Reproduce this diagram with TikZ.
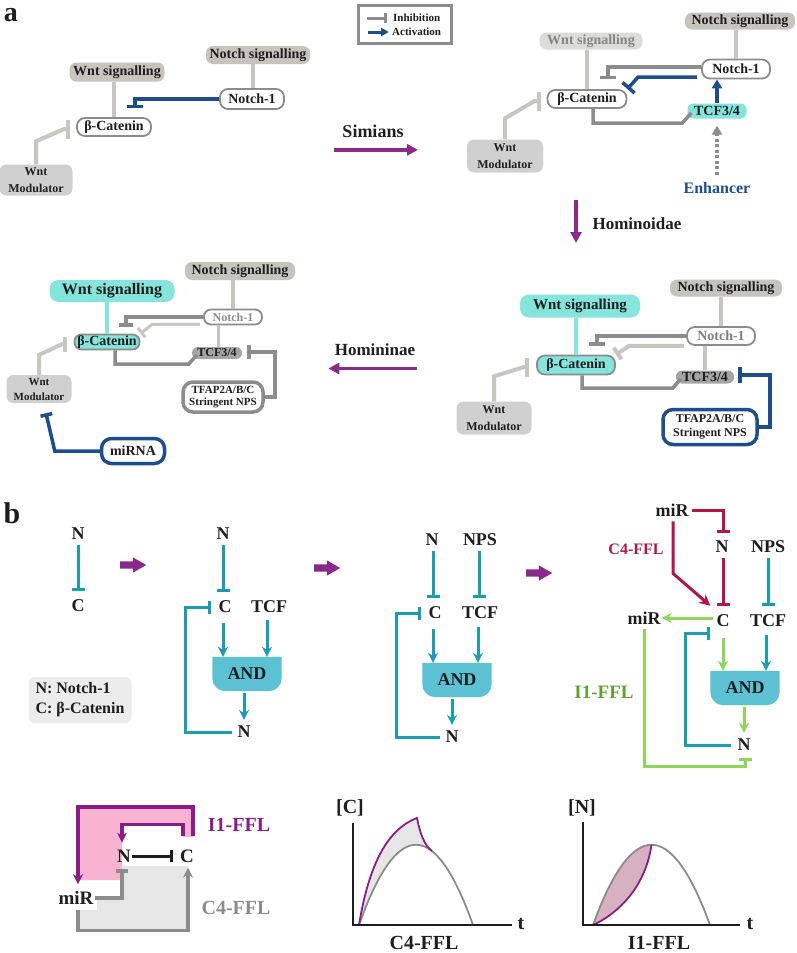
\documentclass[tikz,border=0pt]{standalone}
\usepackage{fontspec}
\setmainfont{Liberation Serif}
\usetikzlibrary{calc}
\usetikzlibrary{arrows.meta,shapes.arrows,backgrounds}

\definecolor{sigfill}{HTML}{C7C4BE}
\definecolor{sigpale}{HTML}{DCDCD9}
\definecolor{modfill}{HTML}{D0D0D0}
\definecolor{lline}{HTML}{C8C6C0}
\definecolor{gline}{HTML}{8C8C8C}
\definecolor{dblue}{HTML}{1D4D8C}
\definecolor{aqua}{HTML}{85E4DC}
\definecolor{tcfgray}{HTML}{A5A5A5}
\definecolor{purp}{HTML}{8C2A8C}
\definecolor{cyanl}{HTML}{1A9DB3}
\definecolor{andfill}{HTML}{5CC2D3}
\definecolor{crim}{HTML}{B3164B}
\definecolor{lgreen}{HTML}{8DD65A}
\definecolor{dgreen}{HTML}{5FA22E}
\definecolor{keyfill}{HTML}{ECECEC}
\definecolor{pinkf}{HTML}{F7B3CF}
\definecolor{plum}{HTML}{8B1B88}
\definecolor{loopgray}{HTML}{E6E6E6}
\definecolor{mauve}{HTML}{D8B1C0}
\definecolor{ink}{HTML}{1E1E1E}

\newcommand{\fsz}[2]{\fontsize{#1}{#2}\selectfont\bfseries}

\tikzset{
  sig/.style={fill=sigfill, rounded corners=7pt, inner sep=1pt, text=ink, font=\fsz{14}{16}},
  mem/.style={draw=gline, line width=1.8pt, fill=white, rounded corners=8pt, inner sep=1pt, text=ink, font=\fsz{14}{16}},
  modbox/.style={fill=modfill, rounded corners=7pt, inner sep=1pt, align=center, text=ink, font=\fsz{12}{17}},
  tcfbox/.style={rounded corners=6pt, inner sep=1pt, text=ink, font=\fsz{14}{16}},
  tfap/.style={draw=dblue, line width=3.5pt, fill=white, rounded corners=10pt, inner sep=1pt, align=center, text=ink, font=\fsz{12}{14}},
  lcon/.style={draw=lline, line width=4pt},
  linh/.style={lcon, -{Bar[width=19pt]}},
  gcon/.style={draw=gline, line width=3.5pt},
  ginh/.style={gcon, -{Bar[width=16pt]}},
  binh/.style={draw=dblue, line width=3.5pt, -{Bar[width=16pt]}},
  bact/.style={draw=dblue, line width=3.5pt, -{Triangle[length=9pt,width=10pt]}},
  enh/.style={draw=gline, line width=3.5pt, dash pattern=on 3pt off 2.5pt, -{Triangle[length=9pt,width=10pt]}},
  evo/.style={draw=purp, line width=3.5pt, -{Triangle[length=11pt,width=11pt]}},
  evotxt/.style={font=\fsz{17}{20}, text=ink},
  lbl/.style={font=\fsz{18}{20}, text=ink, inner sep=1pt},
  cinh/.style={draw=cyanl, line width=3pt, -{Bar[width=13pt]}, shorten <=4pt, shorten >=8pt},
  cact/.style={draw=cyanl, line width=3pt, -{Stealth[length=10pt,width=10pt]}, shorten <=8pt},
  rinh/.style={draw=crim, line width=3pt, -{Bar[width=13pt]}, shorten <=4pt, shorten >=8pt},
  ract/.style={draw=crim, line width=3pt, -{Stealth[length=11pt,width=11pt]}},
  grinh/.style={draw=lgreen, line width=3pt, -{Bar[width=13pt]}},
  gract/.style={draw=lgreen, line width=3pt, -{Stealth[length=10pt,width=10pt]}},
  andg/.style={minimum width=69pt, minimum height=34pt, inner sep=0pt, font=\fsz{18}{20}, text=ink},
  fatarr/.style={single arrow, fill=purp, minimum height=26pt, inner sep=3.5pt, single arrow head extend=4pt, single arrow tip angle=60},
  kinh/.style={draw=ink, line width=3pt, -{Bar[width=12pt]}},
  pact/.style={draw=plum, line width=3.5pt, -{Stealth[length=10pt,width=10pt]}},
  mginh/.style={gcon, -{Bar[width=12pt]}},
  mgact/.style={gcon, -{Stealth[length=10pt,width=10pt]}},
  axis/.style={draw=ink, line width=2.8pt},
  gcurve/.style={draw=gline, line width=1.8pt},
  pcurve/.style={draw=plum, line width=1.8pt},
  plt/.style={font=\fsz{20}{22}, text=ink, inner sep=1pt}
}

\begin{document}
\begin{tikzpicture}[x=1pt,y=-1pt]
\useasboundingbox (0,0) rectangle (797,953);

% ---- a ----
\node[font=\fsz{28}{28}, text=ink, inner sep=0pt] (pa) at (11,15) {a};

  \node[sig, minimum width=95, minimum height=19] (wntA) at (117,72) {Wnt signalling};
  \node[sig, minimum width=104, minimum height=18] (notchsA) at (258,55) {Notch signalling};
  \node[mem, minimum width=64, minimum height=20] (n1A) at (252,99) {Notch-1};
  \node[mem, minimum width=74, minimum height=18] (catA) at (114,127) {β-Catenin};
  \node[modbox, minimum width=73, minimum height=31] (modA) at (36,180) {Wnt\\Modulator};

  \draw[lcon] (catA.north) -- (catA.north |- wntA.south);
  \draw[lcon] ($(n1A.north)+(1,0)$) -- ($(n1A.north |- notchsA.south)+(1,0)$);
  \draw[binh] (n1A.west) -| ($(catA.north)+(21,-9)$);
  \draw[linh] (modA.north) -- ++(0,-23) -- ($(catA.west)+(-12,2)$) -- ($(catA.west)+(-6,2)$);

  % legend
  \node[draw=gline, line width=3pt, minimum width=93, minimum height=38] (legA) at (404.5,24) {};
  \node[font=\fsz{11}{13}, text=ink, anchor=west, inner sep=0pt] (inhA) at (393,18) {Inhibition};
  \node[font=\fsz{11}{13}, text=ink, anchor=west, inner sep=0pt] (actA) at (392,32) {Activation};
  \draw[gcon, line width=3pt, -{Bar[width=10pt]}] ($(inhA.west)+(-26,0)$) -- ($(inhA.west)+(-6,0)$);
  \draw[bact, line width=3pt, -{Triangle[length=8pt,width=8pt]}] ($(actA.west)+(-24,0)$) -- ($(actA.west)+(-3,0)$);

  \node[evotxt, font=\fsz{18}{20}] (simA) at (373,131) {Simians};
  \draw[evo] ($(simA.south west)+(-5,9)$) -- ($(simA.south east)+(11,9)$);

  \node[sig, fill=sigpale, text=gline!95!black, minimum width=103, minimum height=17] (wntB) at (591,41) {Wnt signalling};
  \node[sig, minimum width=110, minimum height=17] (notchsB) at (740,21) {Notch signalling};
  \node[mem, minimum width=68, minimum height=19] (n1B) at (736,69) {Notch-1};
  \node[mem, minimum width=79, minimum height=18] (catB) at (587,99) {β-Catenin};
  \node[tcfbox, fill=aqua, minimum width=59, minimum height=15] (tcfB) at (717,111) {TCF3/4};
  \node[modbox, minimum width=76, minimum height=33] (modB) at (505,156) {Wnt\\Modulator};
  \node[font=\fsz{16}{18}, text=dblue] (enhB) at (717,188) {Enhancer};

  \draw[lcon] (catB.north) -- (catB.north |- wntB.south);
  \draw[lcon] (n1B.north) -- (n1B.north |- notchsB.south);
  \draw[ginh] ($(n1B.west)+(0,-2)$) -| ($(catB.north)+(21,-10)$);
  \draw[binh] ($(n1B.west)+(-4,8)$) -- ++(-59,0) -- (catB.north east);
  \draw[bact] (tcfB.north) -- (tcfB.north |- n1B.south);
  \draw[gcon] ($(catB.south)+(6,0)$) |- ($(tcfB.west)+(-5,12)$) -- ($(tcfB.west)+(4,2)$);
  \draw[linh] (modB.north) -- ++(0,-21) -- ($(catB.west)+(-12,2)$) -- ($(catB.west)+(-6,2)$);
  \draw[enh] ($(enhB.north)+(0,-4)$) -- ($(tcfB.south)+(0,7)$);

  \node[evotxt, anchor=west] (homB) at (589,224) {Hominoidae};
  \draw[evo] ($(homB.west)+(-13,-24)$) -- ($(homB.west)+(-13,19)$);

  \node[sig, minimum width=112, minimum height=17] (notchsC) at (726,288) {Notch signalling};
  \node[sig, fill=aqua, rounded corners=9pt, minimum width=120, minimum height=23, font=\fsz{15}{17}] (wntC) at (580,306) {Wnt signalling};
  \node[mem, text=gline!90!black, minimum width=68, minimum height=18] (n1C) at (721,336) {Notch-1};
  \node[mem, fill=aqua, minimum width=78, minimum height=19] (catC) at (576,365) {β-Catenin};
  \node[tcfbox, fill=tcfgray, minimum width=58, minimum height=13] (tcfC) at (705,377) {TCF3/4};
  \node[modbox, minimum width=75, minimum height=33] (modC) at (494,418) {Wnt\\Modulator};
  \node[tfap, minimum width=94, minimum height=35] (tfapC) at (710,427) {TFAP2A/B/C\\Stringent NPS};

  \draw[lcon] (n1C.north) -- (n1C.north |- notchsC.south);
  \draw[draw=aqua, line width=4pt] (catC.north) -- (catC.north |- wntC.south);
  \draw[ginh] (n1C.west) -| ($(catC.north)+(21,-9)$);
  \draw[linh, -{Bar[width=14pt]}] ($(n1C.south west)+(-2,0)$) -- ++(-55,0) -- (catC.north east);
  \draw[lcon] (tcfC.north) -- (tcfC.north |- n1C.south);
  \draw[gcon] ($(catC.south)+(6,0)$) |- ($(tcfC.west)+(-3,11)$) -- ($(tcfC.west)+(5,2)$);
  \draw[binh] (tfapC.east) -- ++(11,0) |- ($(tcfC.east)+(4,-2)$);
  \draw[linh] (modC.north) -- ++(0,-25) -- ($(catC.west)+(-12,2)$) -- ($(catC.west)+(-7,2)$);

  \node[evotxt] (homC) at (375,350) {Homininae};
  \draw[evo] ($(homC.south east)+(-2,9)$) -- ($(homC.south west)+(-3,9)$);

  \node[sig, minimum width=110, minimum height=18] (notchsD) at (240,271) {Notch signalling};
  \node[sig, fill=aqua, rounded corners=9pt, minimum width=125, minimum height=22, font=\fsz{16}{18}] (wntD) at (112,291) {Wnt signalling};
  \node[mem, text=gline, rounded corners=7pt, font=\fsz{12}{14}, minimum width=58, minimum height=15] (n1D) at (233,317) {Notch-1};
  \node[mem, fill=aqua, rounded corners=7pt, minimum width=65, minimum height=15] (catD) at (107,342) {β-Catenin};
  \node[tcfbox, fill=tcfgray, font=\fsz{12}{14}, minimum width=50, minimum height=12] (tcfD) at (217,353) {TCF3/4};
  \node[modbox, font=\fsz{11}{15}, minimum width=65, minimum height=28] (modD) at (39,389) {Wnt\\Modulator};
  \node[tfap, draw=gline, font=\fsz{11}{12}, minimum width=80, minimum height=30] (tfapD) at (223,397) {TFAP2A/B/C\\Stringent NPS};
  \node[tfap, font=\fsz{14}{16}, minimum width=63, minimum height=25] (mirD) at (133,451) {miRNA};

  \draw[lcon] (n1D.north) -- (n1D.north |- notchsD.south);
  \draw[draw=aqua, line width=4pt] (catD.north) -- (catD.north |- wntD.south);
  \draw[ginh, -{Bar[width=14pt]}] (n1D.west) -| ($(catD.north)+(19,-7)$);
  \draw[linh, line width=3pt, -{Bar[width=12pt]}] ($(n1D.south west)+(-3,-1)$) -- ++(-48,0) -- (catD.north east);
  \draw[lcon, line width=3pt] ($(tcfD.north)+(1,0)$) -- ($(tcfD.north |- n1D.south)+(1,0)$);
  \draw[gcon] ($(catD.south)+(8,0)$) |- ($(tcfD.west)+(-3,11)$) -- ($(tcfD.west)+(5,2)$);
  \draw[ginh, -{Bar[width=14pt]}] (tfapD.east) -- ++(10,0) |- ($(tcfD.east)+(5,-1)$);
  \draw[linh, -{Bar[width=15pt]}] (modD.north) -- ++(0,-20) -- ($(catD.west)+(-11,2)$) -- ($(catD.west)+(-7,2)$);
  \draw[binh, -{Bar[width=12pt]}] (mirD.west) -- ++(-45,0) -- ($(modD.south)+(7,10)$);

% ---- b ----
\node[font=\fsz{30}{30}, text=ink] (pb) at (12,513) {b};

  \node[lbl] (N1) at (78,534) {N};
  \node[lbl] (C1) at (78,606) {C};
  \draw[cinh] (N1) -- (C1);
  \node[fatarr] (f1) at (130,565) {};

  \node[fill=keyfill, rounded corners=6pt, align=left, font=\fsz{16}{20}, text=ink, minimum width=103, minimum height=46, inner sep=4pt] (key) at (80,700) {N: Notch-1\\C: β-Catenin};

  \node[lbl] (N2) at (223,534) {N};
  \node[lbl] (C2) at (225,607) {C};
  \node[lbl] (T2) at (269,607) {TCF};
  \node[andg] (and2) at (247,674) {AND};
  \node[lbl] (M2) at (244,732) {N};
  \draw[cinh] (N2.south) -- (N2.south |- C2.north);
  \draw[cact, shorten <=9pt] (C2.south -| N2.south) -- (N2.south |- and2.north);
  \draw[cact, shorten <=6pt] ($(T2.south)+(-2,0)$) -- ($(T2.south |- and2.north)+(-2,0)$);
  \draw[cact, shorten <=2pt, shorten >=5pt] (and2.south -| M2.north) -- (M2.north);
  \draw[cinh, shorten >=0pt, shorten <=4pt] (M2.west) -| ($(C2.west)+(-32,0)$) -- ($(C2.west)+(-6,0)$);
  \node[fatarr] (f2) at (324,568) {};

  \node[lbl] (N3) at (432,540) {N};
  \node[lbl] (P3) at (480,540) {NPS};
  \node[lbl] (C3) at (435,613) {C};
  \node[lbl] (T3) at (480,613) {TCF};
  \node[andg] (and3) at (457,680) {AND};
  \node[lbl] (M3) at (452,737) {N};
  \draw[cinh] ($(N3.south)+(1,0)$) -- ($(N3.south |- C3.north)+(1,0)$);
  \draw[cinh] ($(P3.south)+(-1,0)$) -- ($(P3.south |- T3.north)+(-1,0)$);
  \draw[cact, shorten <=9pt] ($(C3.south)+(-2,0)$) -- ($(C3.south |- and3.north)+(-2,0)$);
  \draw[cact, shorten <=7pt] ($(T3.south)+(-2,0)$) -- ($(T3.south |- and3.north)+(-2,0)$);
  \draw[cact, shorten <=2pt, shorten >=5pt] (and3.south -| M3.north) -- (M3.north);
  \draw[cinh, shorten >=0pt, shorten <=4pt] (M3.west) -| ($(C3.west)+(-31,0)$) -- ($(C3.west)+(-6,0)$);
  \node[fatarr] (f3) at (536,573) {};

  \node[lbl] (R4) at (672,510) {miR};
  \node[lbl] (N4) at (722,547) {N};
  \node[lbl] (P4) at (768,547) {NPS};
  \node[lbl] (C4) at (723,621) {C};
  \node[lbl] (T4) at (768,621) {TCF};
  \node[lbl] (Q4) at (644,618) {miR};
  \node[andg] (and4) at (745,688) {AND};
  \node[lbl] (M4) at (744,745) {N};
  \node[font=\fsz{16}{18}, text=crim] (c4t) at (636,549) {C4-FFL};
  \node[font=\fsz{19}{21}, text=dgreen] (i1t) at (604,692) {I1-FFL};
  \draw[rinh, shorten <=2pt, shorten >=0pt] (R4.east) -| ($(N4.north)+(1,-7)$);
  \draw[ract] ($(R4.south)+(1,4)$) -- ($(R4.south)+(1,56)$) -- ($(C4.north west)+(-5,-8)$);
  \draw[rinh] ($(N4.south)+(1,0)$) -- ($(N4.south |- C4.north)+(1,0)$);
  \draw[cinh] (P4.south) -- (P4.south |- T4.north);
  \draw[gract] ($(C4.west)+(-2,-3)$) -- (Q4.east);
  \draw[grinh, shorten <=4pt] (Q4.south) |- ($(M4.south)+(1,14)$) -- ($(M4.south)+(1,6)$);
  \draw[cinh, shorten >=0pt, shorten <=5pt] (M4.west) -| ($(C4.west)+(-30,12)$) -- ($(C4.west)+(-5,12)$);
  \draw[gract, shorten <=10pt] (C4.south) -- (C4.south |- and4.north);
  \draw[cact, shorten <=7pt] ($(T4.south)+(-2,0)$) -- ($(T4.south |- and4.north)+(-2,0)$);
  \draw[gract, shorten <=2pt, shorten >=5pt] (and4.south -| M4.north) -- (M4.north);

  % loops
  \fill[pinkf] (78,808) -- (193,808) -- (193,837) -- (183,837) -- (183,825) -- (122,825) -- (122,880) -- (78,880) -- cycle;
  \fill[loopgray] (122,866) -- (188,866) -- (188,930) -- (78,930) -- (78,910) -- (97,910) -- (97,898) -- (122,898) -- cycle;
  \node[lbl, font=\fsz{19}{21}] (Nf) at (124,856) {N};
  \node[lbl, font=\fsz{19}{21}] (Cf) at (187,856) {C};
  \node[lbl, font=\fsz{19}{21}] (Rf) at (76,898) {miR};
  \node[font=\fsz{20}{22}, text=plum] (i1f) at (239,825) {I1-FFL};
  \node[font=\fsz{20}{22}, text=gline] (c4f) at (236,908) {C4-FFL};
  \draw[kinh, shorten >=6pt] (Nf) -- (Cf);
  \draw[pact] ($(Cf.north)+(6,-12)$) |- ($(Rf.north)+(2,-83)$) -- ($(Rf.north)+(2,-6)$);
  \draw[pact] ($(Cf.north)+(-4,-12)$) |- ($(Nf.north)+(-2,-24)$) -- ($(Nf.north)+(-2,-6)$);
  \draw[mginh] (Rf.east) -| ($(Nf.south)+(-2,6)$);
  \draw[mgact] ($(Rf.south)+(2,4)$) |- ($(Cf.south)+(1,67)$) -- ($(Cf.south)+(1,4)$);

  % time courses
  \coordinate (oC) at (353,925);
  \fill[loopgray] (359,925) .. controls (368,870) and (385,830) .. (417,818) .. controls (420,833) and (424,845) .. (432,851) -- cycle;
  \fill[white] (359,925) .. controls (397,818) and (435,818) .. (473,925) -- cycle;
  \draw[gcurve] (359,925) .. controls (397,818) and (435,818) .. (473,925);
  \draw[pcurve] (359,925) .. controls (368,870) and (385,830) .. (417,818) .. controls (420,833) and (424,845) .. (432,851);
  \draw[axis] ($(oC)+(0,-102)$) -- (oC) -- ++(159,0);
  \node[plt] (cy) at (350,808) {[C]};
  \node[plt] (ct) at (521,924) {t};
  \node[plt] (cl) at (424,943) {C4-FFL};

  \coordinate (oN) at (583,925);
  \fill[mauve] (593,925) .. controls (612.5,871.5) and (632,844.75) .. (651.5,844.75) .. controls (645,890) and (615,915) .. (593,925) -- cycle;
  \draw[gcurve] (593,925) .. controls (632,818) and (671,818) .. (710,925);
  \draw[pcurve] (593,925) .. controls (615,915) and (645,890) .. (651.5,844.75);
  \draw[axis] ($(oN)+(0,-103)$) -- (oN) -- ++(157,0);
  \node[plt] (ny) at (582,808) {[N]};
  \node[plt] (nt) at (750,924) {t};
  \node[plt] (nl) at (659,943) {I1-FFL};

\begin{scope}[on background layer]
  \fill[white] (0,0) rectangle (797,953);
  \foreach \g in {and2,and3,and4}
    \fill[andfill] (\g.north west) -- (\g.north east) -- ([yshift=13pt]\g.south east) arc[start angle=0, end angle=-90, radius=13pt] -- ([xshift=13pt]\g.south west) arc[start angle=270, end angle=180, radius=13pt] -- cycle;
\end{scope}

\end{tikzpicture}
\end{document}
